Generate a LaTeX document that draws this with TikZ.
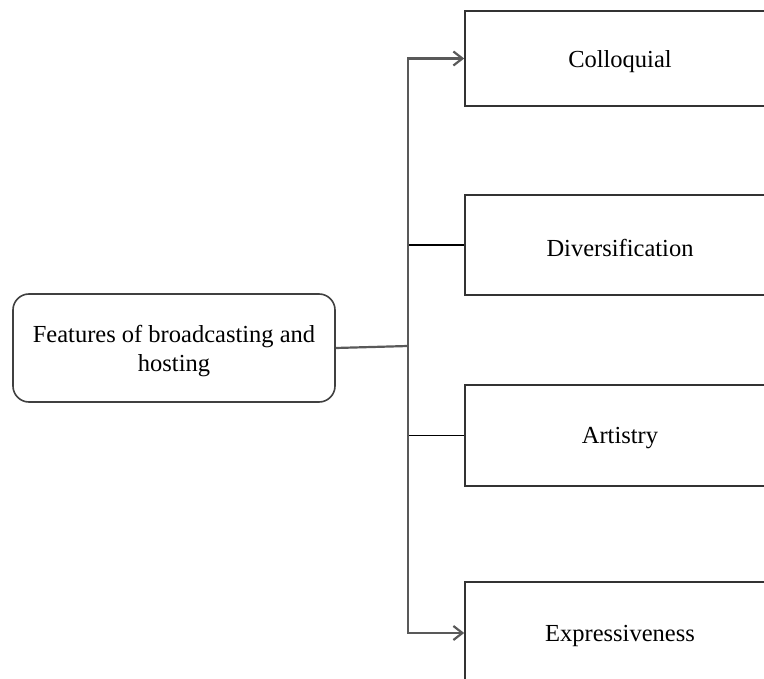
\documentclass[tikz,border=0pt]{standalone}
\usepackage{fontspec}
\setmainfont{Liberation Serif}
\usetikzlibrary{arrows.meta}
\newcommand{\lowertext}[1]{\raisebox{-3pt}[\height][\depth]{#1}}
\begin{document}
\begin{tikzpicture}[x=1pt,y=-1pt,
  box/.style={draw=black!80, line width=1.6pt, rectangle, minimum width=310pt, align=center, font=\fontsize{24.5}{29}\selectfont, inner sep=0pt},
  rootbox/.style={draw=black!75, line width=1.6pt, rectangle, rounded corners=16pt, minimum width=322pt, minimum height=108pt, align=center, font=\fontsize{24.5}{29}\selectfont, inner sep=0pt},
  spine/.style={draw=black!65, line width=2.2pt},
  branch/.style={draw=black, line width=1.4pt},
  arr/.style={-{Straight Barb[length=9pt,width=14pt]}}]
\useasboundingbox (0,0) rectangle (764,679);
\clip (0,0) rectangle (764,679);
\node[rootbox] (root) at (174,348) {\lowertext{\setlength{\tabcolsep}{0pt}\begin{tabular}{c}Features of broadcasting and\\hosting\end{tabular}}};
\node[box, minimum height=95pt] (b1) at (620,58.5) {\lowertext{Colloquial}};
\node[box, minimum height=100pt] (b2) at (620,245) {\lowertext{Diversification}};
\node[box, minimum height=101pt] (b3) at (620,435.5) {\lowertext{Artistry}};
\node[box, minimum height=102pt] (b4) at (620,633) {\lowertext{Expressiveness}};
\coordinate (j) at (408,346);
\draw[branch] (j) |- (b2.west);
\draw[branch] (j) |- (b3.west);
\draw[spine] (root.east) -- (j);
\draw[spine,arr] (j) |- (b1.west);
\draw[spine,arr] (j) |- (b4.west);
\end{tikzpicture}
\end{document}
